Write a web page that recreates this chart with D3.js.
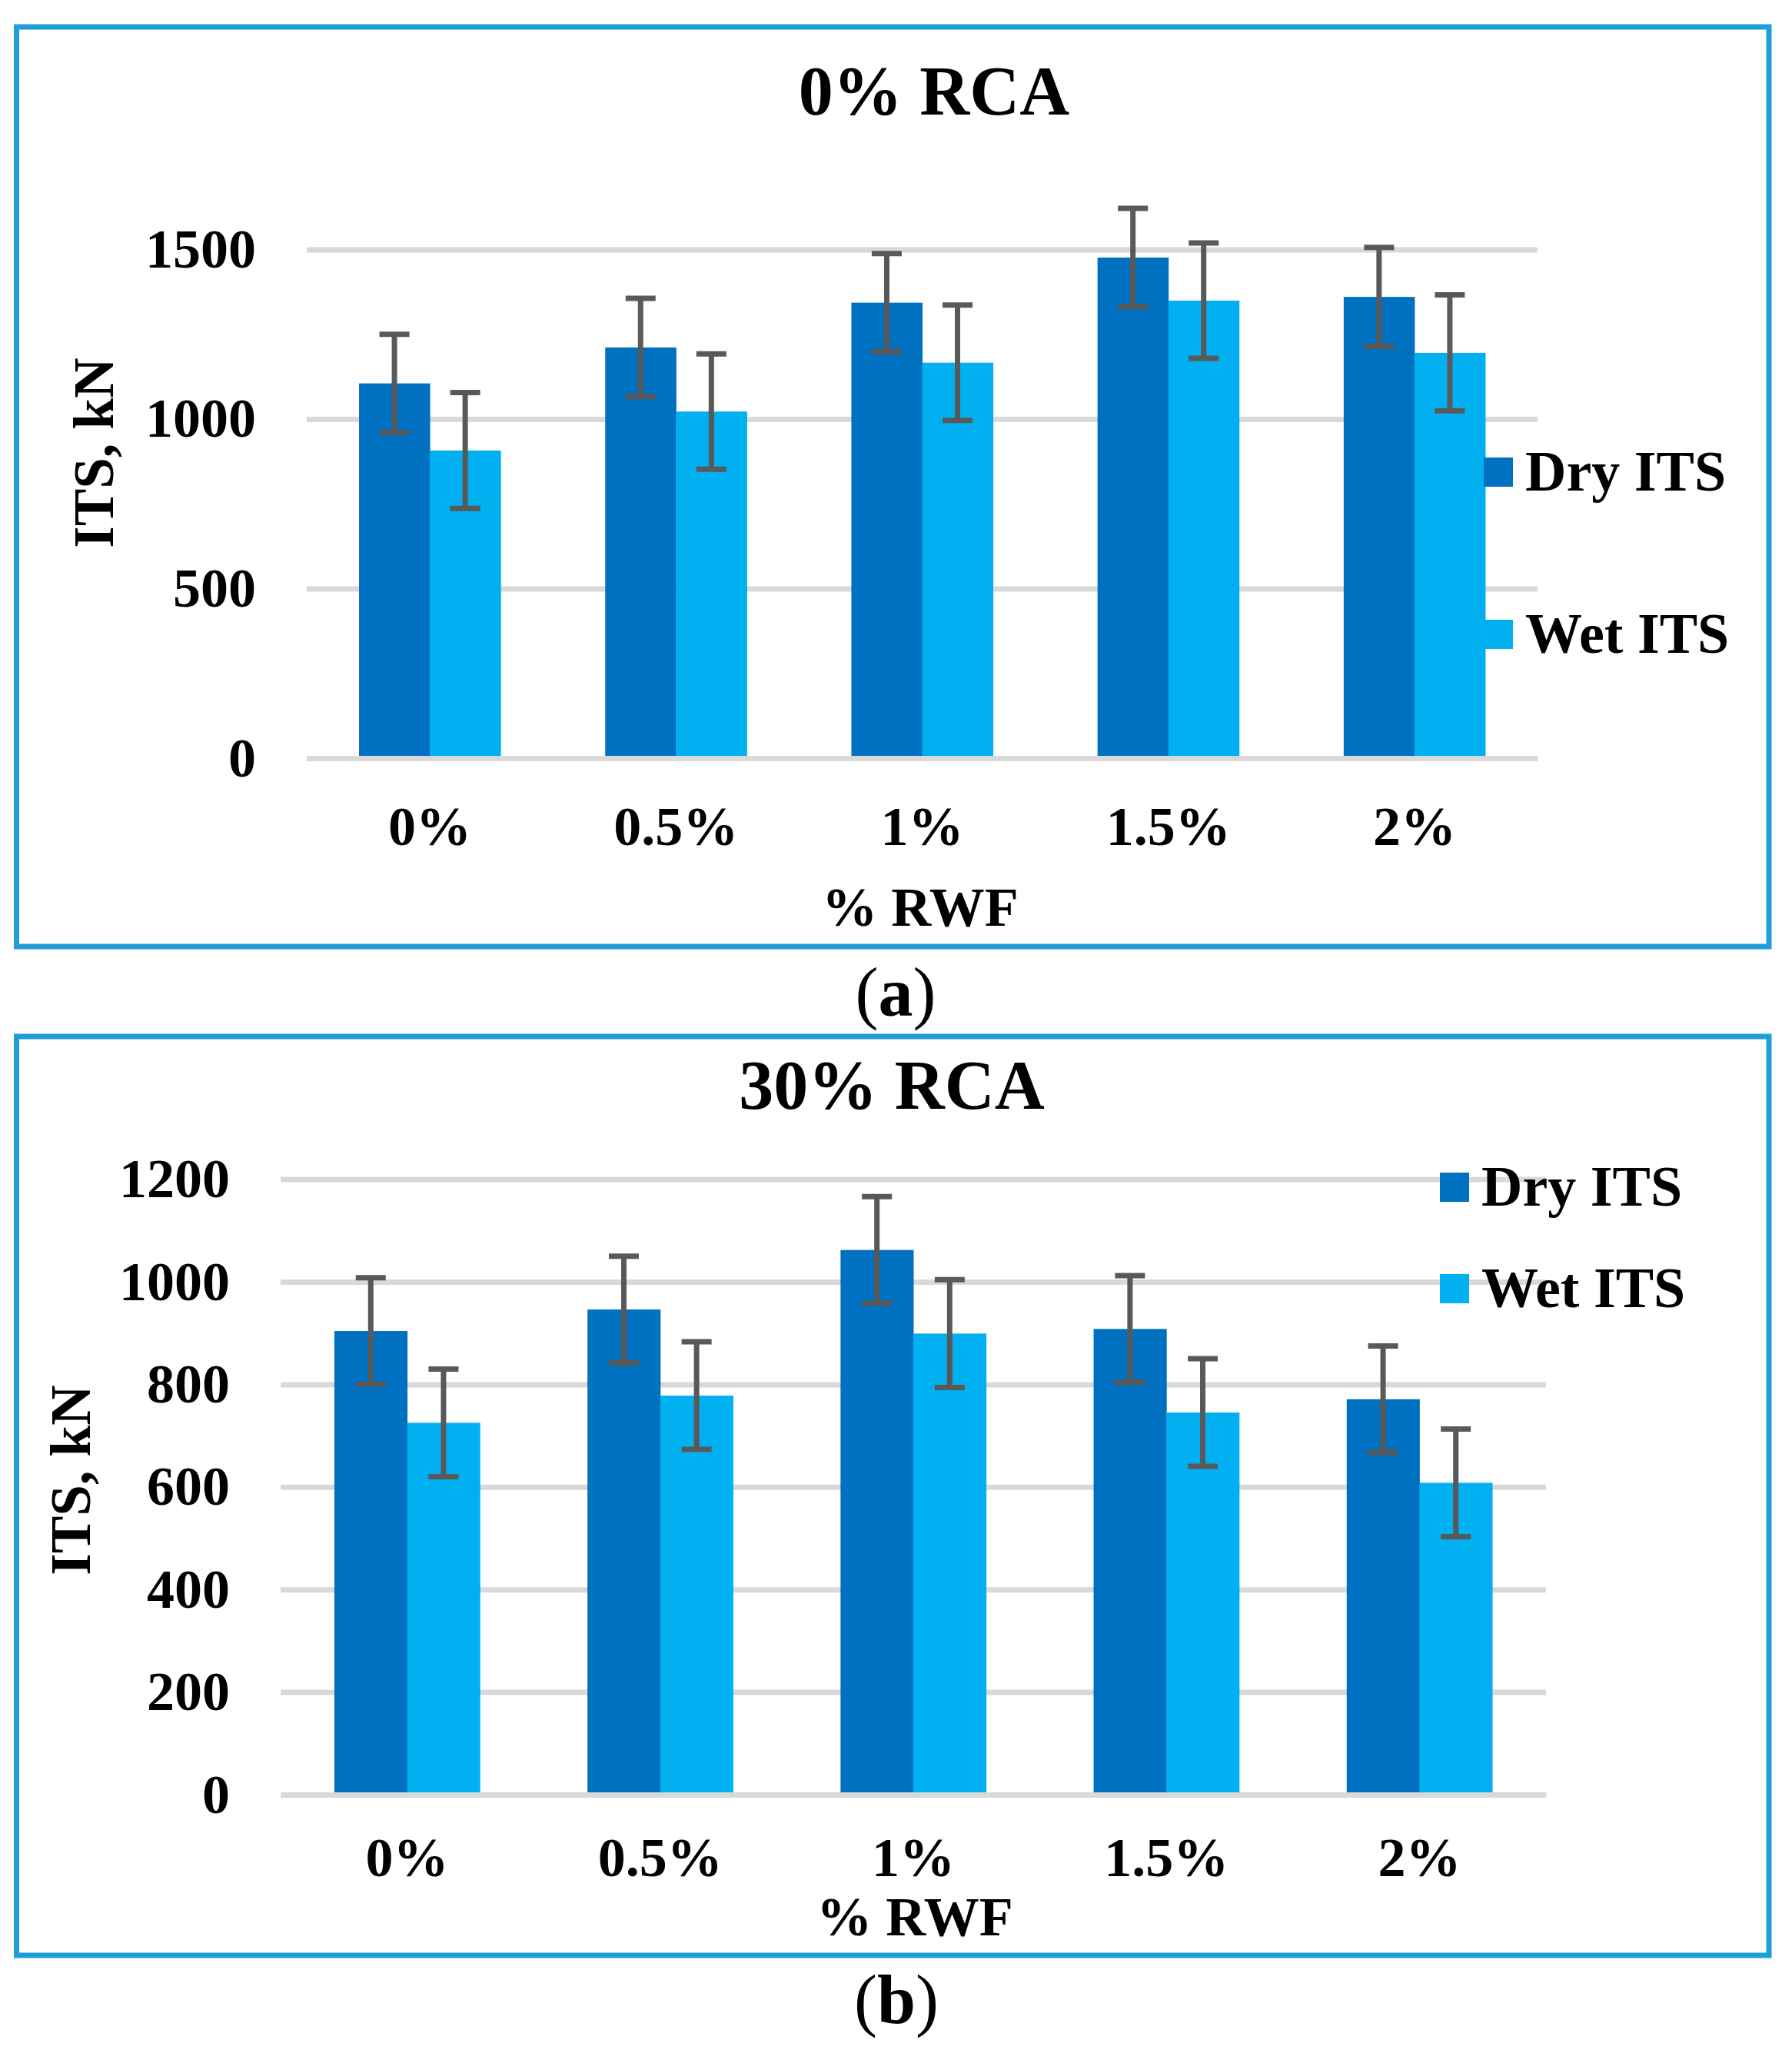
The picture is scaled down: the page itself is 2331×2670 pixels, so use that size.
<!DOCTYPE html>
<meta charset="utf-8">
<style>
    body { margin: 0; background: #fff; }
    svg { display: block; }
    text { font-family: "Liberation Serif", "Times New Roman", serif; font-weight: bold; fill: #000; }
    .grid line { stroke: #d9d9d9; stroke-width: 7; }
    .grid path { display: none; }
    .axis--x path { stroke: #d9d9d9; stroke-width: 7; }
    .err { stroke: #595959; stroke-width: 7; }
    .frame { fill: none; stroke: #1e9dd8; stroke-width: 7; }
</style>
<svg width="2331" height="2670"></svg>
<script src="https://d3js.org/d3.v7.min.js"></script>
<script>

    // data
    var categories = ["0%", "0.5%", "1%", "1.5%", "2%"];
    var seriesNames = ["Dry ITS", "Wet ITS"];

    // (a) 0% RCA
    var dryA = [1105, 1211, 1343, 1476, 1360];
    var wetA = [907, 1022, 1166, 1349, 1195];
    var errDryA = [145, 145, 145, 145, 146];
    var errWetA = [171, 170, 170, 170, 171];
    var ticksA = [0, 500, 1000, 1500];

    // (b) 30% RCA
    var dryB = [904, 946, 1062, 908, 771];
    var wetB = [725, 778, 899, 745, 608];
    var errDryB = [104, 104, 104, 104, 104];
    var errWetB = [105, 105, 105, 105, 105];
    var ticksB = [0, 200, 400, 600, 800, 1000, 1200];

    var colors = ["#0070c0", "#00b0f0"];
    var svg = d3.select("svg");

    function panel(p) {
        svg.append("rect")
            .attr("class", "frame")
            .attr("x", p.frame[0]).attr("y", p.frame[1])
            .attr("width", p.frame[2] - p.frame[0])
            .attr("height", p.frame[3] - p.frame[1]);

        var width = p.right - p.left;

        var x0 = d3.scaleBand().domain(categories).range([p.left, p.right])
                .paddingInner(0.425).paddingOuter(0.2125),
            x1 = d3.scaleBand().domain(seriesNames).range([0, x0.bandwidth()]),
            y = d3.scaleLinear().domain([0, d3.max(p.ticks)]).range([p.bottom, p.top]);

        // gridlines + y tick labels
        var gy = svg.append("g")
            .attr("class", "grid")
            .attr("transform", "translate(" + p.left + ",0)")
            .call(d3.axisLeft(y).tickValues(p.ticks).tickFormat(d3.format("d"))
                .tickSize(-width).tickPadding(p.left - p.labelRight));
        gy.selectAll("text").style("font-size", "72px");

        var rows = categories.map(function(c, i) {
            return {cat: c, vals: [
                {s: seriesNames[0], v: p.dry[i], e: p.errDry[i]},
                {s: seriesNames[1], v: p.wet[i], e: p.errWet[i]}
            ]};
        });

        var groups = svg.append("g").selectAll("g")
            .data(rows)
            .enter().append("g")
            .attr("transform", function(d) { return "translate(" + x0(d.cat) + ",0)"; });

        groups.selectAll("rect")
            .data(function(d) { return d.vals; })
            .enter().append("rect")
            .attr("x", function(d) { return x1(d.s); })
            .attr("y", function(d) { return y(d.v); })
            .attr("width", x1.bandwidth() + 0.5)
            .attr("height", function(d) { return y(0) - y(d.v); })
            .attr("fill", function(d, i) { return colors[i]; });

        // x axis line on top of the bars
        var gx = svg.append("g")
            .attr("class", "axis axis--x")
            .attr("transform", "translate(0," + p.bottom + ")")
            .call(d3.axisBottom(x0).tickSize(0).tickSizeOuter(0));
        gx.selectAll("text")
            .attr("y", p.xLabelBase - p.bottom)
            .attr("dy", 0)
            .style("font-size", "72px");

        // error bars
        var cap = 19.5;
        var eb = groups.selectAll("g.eb")
            .data(function(d) { return d.vals; })
            .enter().append("g")
            .attr("class", "err");
        eb.append("line")
            .attr("x1", function(d) { return x1(d.s) + x1.bandwidth() / 2; })
            .attr("x2", function(d) { return x1(d.s) + x1.bandwidth() / 2; })
            .attr("y1", function(d) { return y(d.v + d.e); })
            .attr("y2", function(d) { return y(d.v - d.e); });
        [1, -1].forEach(function(sign) {
            eb.append("line")
                .attr("x1", function(d) { return x1(d.s) + x1.bandwidth() / 2 - cap; })
                .attr("x2", function(d) { return x1(d.s) + x1.bandwidth() / 2 + cap; })
                .attr("y1", function(d) { return y(d.v + sign * d.e); })
                .attr("y2", function(d) { return y(d.v + sign * d.e); });
        });

        // titles
        svg.append("text")
            .attr("x", p.titleX).attr("y", p.titleY)
            .attr("text-anchor", "middle")
            .style("font-size", "90px")
            .text(p.title);

        svg.append("text")
            .attr("x", p.xTitleX).attr("y", p.xTitleY)
            .attr("text-anchor", "middle")
            .style("font-size", "72px")
            .text("% RWF");

        svg.append("text")
            .attr("transform", "translate(" + p.yTitleX + "," + p.yTitleY + ") rotate(-90)")
            .attr("text-anchor", "middle")
            .style("font-size", "73px")
            .text("ITS, kN");

        // legend
        var lg = svg.append("g").selectAll("g")
            .data(seriesNames)
            .enter().append("g");
        lg.append("rect")
            .attr("x", p.legendX)
            .attr("y", function(d, i) { return p.legendY[i]; })
            .attr("width", 38).attr("height", 38)
            .attr("fill", function(d, i) { return colors[i]; });
        lg.append("text")
            .attr("x", p.legendX + 54)
            .attr("y", function(d, i) { return p.legendY[i] + 43; })
            .style("font-size", "74px")
            .text(function(d) { return d; });

        // caption
        var capText = svg.append("text")
            .attr("x", p.capX).attr("y", p.capY)
            .attr("text-anchor", "middle")
            .style("font-size", "90px");
        capText.append("tspan").style("font-weight", "normal").text("(");
        capText.append("tspan").text(p.caption);
        capText.append("tspan").style("font-weight", "normal").text(")");
    }

    panel({
        frame: [21.5, 35, 2301, 1231],
        left: 399, right: 2000, top: 324.4, bottom: 986,
        ticks: ticksA, labelRight: 333,
        dry: dryA, wet: wetA, errDry: errDryA, errWet: errWetA,
        xLabelBase: 1099,
        title: "0% RCA", titleX: 1215, titleY: 149,
        xTitleX: 1197, xTitleY: 1204,
        yTitleX: 147, yTitleY: 589,
        legendX: 1930, legendY: [595, 806],
        caption: "a", capX: 1165, capY: 1321
    });

    panel({
        frame: [21.5, 1348, 2301, 2543],
        left: 365, right: 2011, top: 1533.6, bottom: 2334,
        ticks: ticksB, labelRight: 299,
        dry: dryB, wet: wetB, errDry: errDryB, errWet: errWetB,
        xLabelBase: 2440,
        title: "30% RCA", titleX: 1160, titleY: 1442,
        xTitleX: 1190, xTitleY: 2517,
        yTitleX: 117, yTitleY: 1925,
        legendX: 1873, legendY: [1525, 1657],
        caption: "b", capX: 1166, capY: 2631
    });

</script>
